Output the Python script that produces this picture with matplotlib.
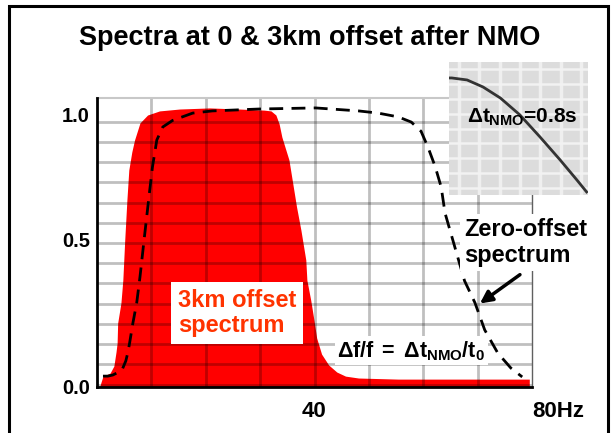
import numpy as np
import matplotlib
matplotlib.use("Agg")
import matplotlib.pyplot as plt
from matplotlib.patches import Rectangle

plt.rcParams['font.family'] = ['Liberation Sans', 'DejaVu Sans']
plt.rcParams['font.weight'] = 'bold'
plt.rcParams['mathtext.fontset'] = 'custom'
plt.rcParams['mathtext.rm'] = 'Liberation Sans:bold'
plt.rcParams['mathtext.it'] = 'Liberation Sans:bold'
plt.rcParams['mathtext.bf'] = 'Liberation Sans:bold'

# 3km offset spectrum (red fill)
freq_3km = [0.5, 0.7, 1.1, 2.4, 3.1, 3.5, 3.7, 3.8, 4.4, 4.75, 5.1, 5.5, 5.85, 6.4, 6.9,
            7.9, 9.3, 11.5, 15.2, 20.7, 26.1, 30.7, 32.0, 32.9, 33.5, 34.0, 35.3, 36.7,
            37.5, 38.4, 38.6, 39.3, 39.9, 40.4, 41.3, 42.6, 44.1, 45.7, 48.1, 55.4, 79.5]
amp_3km = [0.0, 0.015, 0.040, 0.051, 0.077, 0.129, 0.162, 0.235, 0.309, 0.393, 0.540,
           0.688, 0.798, 0.864, 0.908, 0.971, 1.000, 1.015, 1.022, 1.026, 1.022, 1.018,
           1.015, 1.000, 0.967, 0.919, 0.835, 0.662, 0.577, 0.467, 0.393, 0.320, 0.246,
           0.180, 0.121, 0.081, 0.055, 0.040, 0.033, 0.029, 0.029]

# zero-offset spectrum (dashed)
freq_0km = [1.1, 2.0, 2.9, 4.0, 4.6, 5.3, 5.7, 6.0, 6.6, 7.3, 7.9, 8.8, 9.7, 10.2, 11.0,
            12.1, 13.9, 17.6, 21.2, 29.8, 40.2, 48.1, 51.7, 55.4, 57.8, 59.6, 60.9, 62.2,
            63.3, 64.0, 65.8, 67.6, 69.5, 71.3, 73.7, 76.1, 78.2]
amp_0km = [0.040, 0.040, 0.044, 0.055, 0.0625, 0.096, 0.129, 0.162, 0.235, 0.309, 0.404,
           0.566, 0.724, 0.809, 0.908, 0.956, 0.980, 1.007, 1.015, 1.022, 1.026, 1.015,
           1.007, 0.993, 0.974, 0.940, 0.880, 0.810, 0.735, 0.640, 0.515, 0.390, 0.310,
           0.210, 0.125, 0.070, 0.037]

# NMO stretch curve in the inset (normalised)
inset_x = [0.0, 0.02, 0.13, 0.245, 0.37, 0.51, 0.655, 0.80, 0.92, 0.99]
inset_y = [0.88, 0.88, 0.865, 0.812, 0.729, 0.602, 0.436, 0.263, 0.113, 0.023]

ytick_pos = [0.0, 0.544, 1.0]
ytick_labels = ['0.0', '0.5', '1.0']
xtick_pos = [40, 80]
xtick_labels = ['40', '80Hz']

W, H = 613, 433
fig = plt.figure(figsize=(W / 100, H / 100), dpi=100)

# outer frame (open at the bottom)
fig.add_artist(Rectangle((9 / W, -0.05), 599 / W, (433 - 6) / H + 0.05,
                         transform=fig.transFigure, fill=False, lw=2.2,
                         edgecolor='black'))

fig.text(310 / W, 1 - 45 / H, 'Spectra at 0 & 3km offset after NMO',
         ha='center', va='baseline', fontsize=19.5, fontweight='bold')

ax = fig.add_axes([97 / W, 1 - 387 / H, 435 / W, 289 / H])
ax.fill_between(freq_3km, 0, amp_3km, color='#ff0000', lw=0, zorder=1)
ax.plot(freq_0km, amp_0km, color='black', lw=2, dashes=(5, 3), zorder=3)

# grid on top of the fill
for gx in np.arange(10, 80, 10):
    ax.axvline(gx, color='black', alpha=0.25, lw=2, zorder=2)
for gy in np.arange(0.975, 0.0, -0.0743):
    ax.axhline(gy, color='black', alpha=0.25, lw=2, zorder=2)

ax.set_xlim(0, 79.5)
ax.set_ylim(0, 1.0625)
ax.set_yticks(ytick_pos)
ax.set_yticklabels(ytick_labels, fontsize=14.5, fontweight='bold')
ax.set_xticks(xtick_pos)
ax.set_xticklabels(xtick_labels, fontsize=16, fontweight='bold')
ax.get_xticklabels()[1].set_ha('left')
ax.tick_params(axis='both', length=0)
ax.tick_params(axis='x', pad=10)
ax.tick_params(axis='y', pad=5)
for s in ['left', 'bottom']:
    ax.spines[s].set_linewidth(2)
    ax.spines[s].set_zorder(5)
ax.spines['top'].set_color('#c8c8c8')
ax.spines['top'].set_linewidth(1.5)
ax.spines['right'].set_color('#606060')
ax.spines['right'].set_linewidth(1)

ax.text(14.9, 0.202, '3km offset\nspectrum', color='#ff3300', fontsize=17,
        fontweight='bold', ha='left', va='baseline', linespacing=1.1, zorder=6,
        bbox=dict(facecolor='white', edgecolor='none', pad=5))
ax.text(67.6, 0.46, 'Zero-offset\nspectrum', color='black', fontsize=17,
        fontweight='bold', ha='left', va='baseline', linespacing=1.15, zorder=6,
        clip_on=False, bbox=dict(facecolor='white', edgecolor='none', pad=3))
ax.text(44.2, 0.110, r'$\Delta f/f\;=\;\Delta t_{NMO}/t_0$', color='black',
        fontsize=15.5, ha='left', va='baseline', zorder=6,
        bbox=dict(facecolor='white', edgecolor='none', pad=2))
ax.annotate('', xy=(70.0, 0.301), xytext=(78.2, 0.419),
            arrowprops=dict(arrowstyle='-|>', color='black', lw=2.5,
                            mutation_scale=18), zorder=7, annotation_clip=False)

# inset picture of the NMO curve
ins = fig.add_axes([449 / W, 1 - 195 / H, 139 / W, 133 / H])
ins.set_facecolor('#dcdcdc')
for gx in np.linspace(0.07, 0.95, 7):
    ins.axvline(gx, color='#efefef', lw=2.5, zorder=1)
for gy in np.linspace(0.05, 0.95, 9):
    ins.axhline(gy, color='#f2f2f2', lw=1.8, zorder=1)
ins.plot(inset_x, inset_y, color='#333333', lw=2, zorder=3)
ins.text(0.13, 0.54, r'$\Delta t_{NMO}$=0.8s', fontsize=15, fontweight='bold',
         ha='left', va='baseline', transform=ins.transAxes, zorder=4)
ins.set_xlim(0, 1)
ins.set_ylim(0, 1)
ins.set_xticks([])
ins.set_yticks([])
for s in ins.spines.values():
    s.set_visible(False)

fig.savefig('out.png', dpi=100)
